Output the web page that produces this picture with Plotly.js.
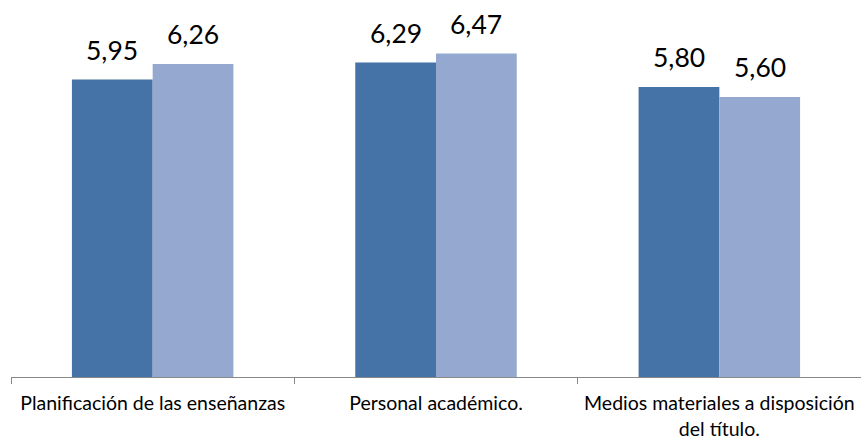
<!DOCTYPE html>
<html><head><meta charset="utf-8">
<script src="https://cdn.plot.ly/plotly-3.0.1.min.js"></script>
<style>html,body{margin:0;padding:0;background:#fff}</style>
</head><body><div id="chart" style="width:861px;height:441px"></div>
<script>
const categories = ["Planificación de las enseñanzas", "Personal académico.", "Medios materiales a disposición<br>del título."];
const series1 = [5.95, 6.29, 5.80];
const series2 = [6.26, 6.47, 5.60];
const seriesNames = ["Serie 1", "Serie 2"];
const colors = ["#4573A7", "#95A9D0"];

const W = 861, H = 441;
const margin = {l: 11, r: 0, t: 17, b: 64};
const bargap = 0.43;
const catW = (W - margin.l - margin.r) / categories.length;
const barW = catW * (1 - bargap) / 2;

const traces = [series1, series2].map((vals, s) => ({
  type: 'bar', x: categories, y: vals, name: seriesNames[s],
  marker: {color: colors[s]}, hoverinfo: 'none'
}));

const fmt = v => v.toFixed(2).replace('.', ',');
const annotations = [];
[series1, series2].forEach((vals, s) => {
  vals.forEach((v, i) => {
    annotations.push({
      x: categories[i], y: v, xref: 'x', yref: 'y', text: fmt(v), showarrow: false,
      xshift: (s === 0 ? -1 : 1) * barW / 2, yanchor: 'bottom', yshift: 12,
      font: {family: 'Lato, "Open Sans", sans-serif', size: 26.5, color: '#000'}
    });
  });
});

Plotly.newPlot('chart', traces, {
  width: W, height: H, margin: margin,
  paper_bgcolor: '#fff', plot_bgcolor: '#fff',
  showlegend: false, barmode: 'group', bargap: bargap, bargroupgap: 0,
  separators: ', ',
  xaxis: {
    type: 'category', showline: true, linecolor: '#888', linewidth: 1,
    ticks: 'outside', tickson: 'boundaries', ticklen: 6, tickcolor: '#888',
    tickfont: {family: 'Lato, "Open Sans", sans-serif', size: 19.5, color: '#000'},
    ticklabelstandoff: 9, showgrid: false, zeroline: false
  },
  yaxis: {range: [0, 7.2], visible: false, showgrid: false, zeroline: false},
  annotations: annotations
}, {displayModeBar: false, staticPlot: true});
</script></body></html>
